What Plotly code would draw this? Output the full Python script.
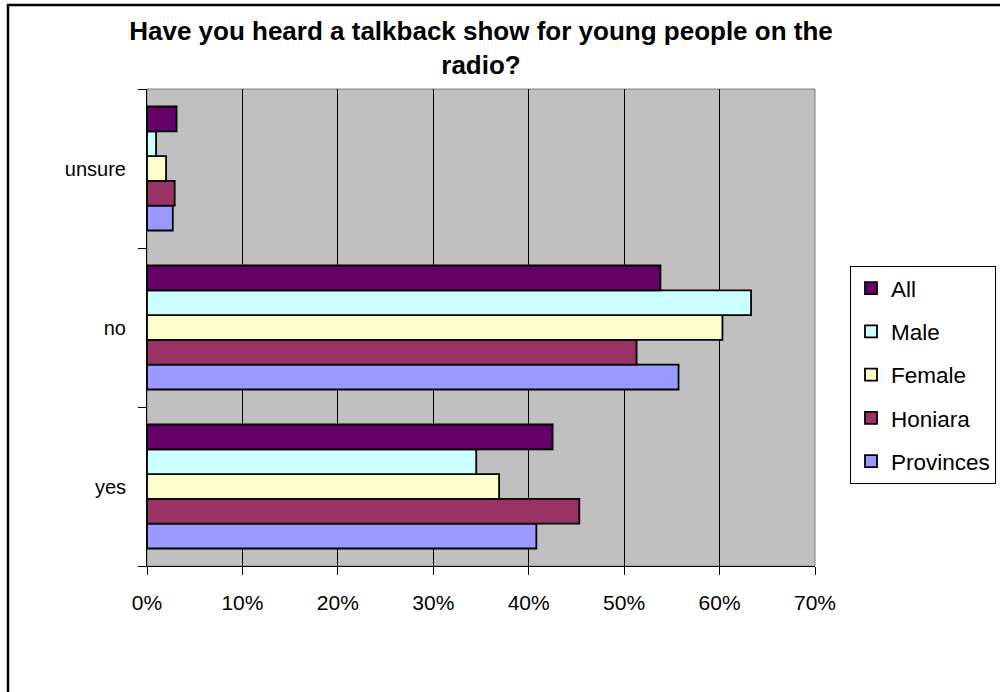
import plotly.graph_objects as go

categories = ["yes", "no", "unsure"]
series_names = ["All", "Male", "Female", "Honiara", "Provinces"]
all_vals = [0.425, 0.538, 0.031]
male_vals = [0.345, 0.633, 0.0095]
female_vals = [0.369, 0.603, 0.020]
honiara_vals = [0.453, 0.513, 0.029]
provinces_vals = [0.408, 0.557, 0.027]
colors = ["#660066", "#CCFFFF", "#FFFFCC", "#993366", "#9999FF"]
values = [all_vals, male_vals, female_vals, honiara_vals, provinces_vals]
x_ticks = [0, 0.1, 0.2, 0.3, 0.4, 0.5, 0.6, 0.7]

FONT = "Liberation Sans, Arial, sans-serif"

fig = go.Figure()
# add in reverse so "All" sits on top of each group
items = list(zip(series_names, values, colors))
for rank, (name, vals, col) in reversed(list(enumerate(items))):
    fig.add_trace(go.Bar(
        y=categories, x=vals, name=name, orientation="h",
        legendgroup=name, legendrank=rank + 1,
        marker=dict(color=col, line=dict(color="black", width=1.8)),
    ))

W, H = 1000, 692
L, R, T, B = 147, 185, 89, 126
pw, ph = W - L - R, H - T - B

fig.update_layout(
    width=W, height=H,
    margin=dict(l=L, r=R, t=T, b=B, pad=0, autoexpand=False),
    paper_bgcolor="white",
    plot_bgcolor="#C0C0C0",
    barmode="group",
    bargap=0.22,
    bargroupgap=0,
    font=dict(family=FONT, size=20, color="black"),
    title=dict(
        text="<b>Have you heard a talkback show for young people on the<br>radio?</b>",
        x=(L + pw / 2) / W, xanchor="center", xref="container",
        y=1 - 40 / H, yanchor="top", yref="container",
        font=dict(family=FONT, size=26, color="black"),
    ),
    legend=dict(
        x=(850 - L) / pw, xanchor="left",
        y=(H - B - 266) / ph, yanchor="top",
        bgcolor="white", bordercolor="black", borderwidth=1,
        traceorder="grouped", tracegroupgap=11,
        itemwidth=30,
        font=dict(family=FONT, size=22.5, color="black"),
    ),
    xaxis=dict(
        range=[0, 0.7], tickvals=x_ticks, tickformat=".0%",
        showgrid=True, gridcolor="black", gridwidth=1,
        showline=True, linecolor="black", linewidth=1,
        ticks="outside", ticklen=8, tickcolor="black",
        ticklabelstandoff=10, zeroline=False, fixedrange=True,
        tickfont=dict(size=21),
    ),
    yaxis=dict(
        categoryorder="array", categoryarray=categories,
        showline=True, linecolor="black", linewidth=1,
        ticks="outside", ticklen=8, tickcolor="black",
        tickson="boundaries", ticklabelstandoff=16,
        showgrid=False, fixedrange=True,
        tickfont=dict(size=20),
    ),
    shapes=[
        dict(type="rect", xref="paper", yref="paper", x0=0, x1=1, y0=0, y1=1,
             line=dict(color="#808080", width=1), layer="below"),
        dict(type="rect", xref="paper", yref="paper",
             x0=(8 - L) / pw, x1=(W + 20 - L) / pw,
             y0=-(B + 20) / ph, y1=(H - B - 5) / ph,
             line=dict(color="black", width=2.5), fillcolor="rgba(0,0,0,0)"),
    ],
)

fig.write_html("out.html")
